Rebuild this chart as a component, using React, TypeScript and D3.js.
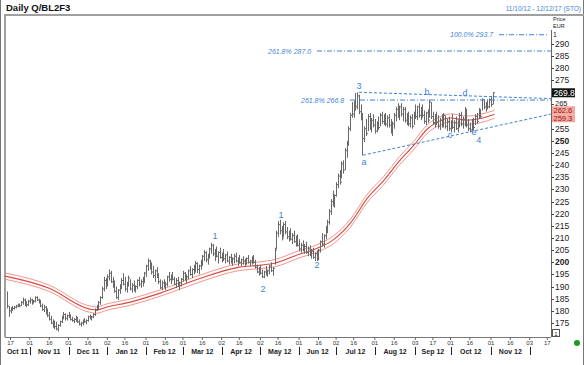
import React from 'react'
import * as d3 from 'd3'

const title = 'Daily Q/BL2F3'
const period = '11/10/12 - 12/12/17 (STO)'

// daily bars [high, low, close], one per trading day, first one is 13 Oct 2011
const oct11 = [[188,181,182],[182,177.5,180],[181.5,179,180.5],[182,180,181],[182,180.5,181.5],[182.5,181,182],[183,181.5,182.5],[183,181.5,182],[184,182,183.5],[185.5,182.5,184.5],[185,182,183],[184,181.5,182.5],[184.5,182,184]]
const nov11 = [[185.5,183,184.5],[185,182.5,183.5],[184.5,183,184],[186,183.5,185.5],[186,184,184.5],[185,183,183.5],[184.5,181.5,182],[183,180,180.5],[182.5,179.5,181.5],[182,178.5,179],[181,177.5,178],[179.5,176,176.5],[178,174.5,175],[176.5,173,174],[176,172.5,173.5],[175.5,172,172.5],[174.5,171.5,174],[176,173.5,175.5],[178,175,177.5],[179.5,176.5,178.5],[179,176,177],[178.5,176,178]]
const dec11 = [[179.5,177,177.5],[178.5,176,176.5],[177.5,175.5,176],[177,175,176.5],[178,175.5,177],[177.5,175,175.5],[176.5,174,174.5],[175.5,173.5,175],[176.5,174,176],[177,175,175.5],[176.5,174.5,176],[178,175.5,177.5],[178.5,176.5,177],[178,176,177.5],[179,177,178.5],[181,178,180.5],[182.5,180,181.5],[184,180.5,183.5],[186,182.5,185.5],[190,185,189],[194,188,192.5],[193.5,189,190.5]]
const jan12 = [[195,190,194],[197,192.5,195.5],[196.5,191.5,192],[194,189.5,190.5],[192.5,187.5,188],[190,185,185.5],[189,184.5,188.5],[191,187,190.5],[193.5,189,192.5],[195.5,190.5,191],[194,188,189],[192,187.5,191.5],[194.5,190,193.5],[193,188.5,189],[191.5,187.5,190.5],[192.5,188,188.5],[190.5,187.5,190],[193,189,192.5],[194,190,191],[193,189.5,192],[194,190,193],[196,191.5,195.5]]
const feb12 = [[199,194,198.5],[201.5,196.5,200.5],[201,197,198],[200,195,196],[198.5,193.5,194.5],[197,192,196.5],[198,193.5,194],[195.5,191,192],[193,189,189.5],[192.5,188.5,191.5],[193,189.5,190.5],[192,188.5,191],[194.5,190,194],[196,192,193],[195,191,194.5],[196,192.5,193],[194,190.5,191],[193.5,189.5,192.5],[194,190,190.5],[192,188.5,191.5],[193.5,190,193]]
const mar12 = [[196.5,192,195.5],[196,192.5,193.5],[195,191.5,194],[197,193,196.5],[198.5,194.5,195],[197.5,193.5,197],[199,195,196],[200.5,196,199.5],[200,195.5,197],[199,195,198.5],[201,197,200],[203,198.5,202.5],[205,200.5,204],[204.5,200,201],[203.5,199,203],[206,201.5,205.5],[208,203.5,207],[207.5,202.5,203.5],[205.5,200.5,204.5],[206.5,202,202.5],[204.5,199.5,204],[206,201.5,202]]
const apr12 = [[204,200,203.5],[205.5,200.5,201.5],[203.5,199.5,203],[204.5,200,200.5],[202.5,199,202],[203.5,199.5,200],[202,198.5,201.5],[203.5,199.5,202.5],[204,200,200.5],[202,198.5,201.5],[203,199.5,200],[201.5,198.5,201],[202.5,199,200.5],[201.5,198.5,200.5],[202,199,201.5],[203,199.5,200],[201,198.5,200.5],[202.5,199,202],[203,199.5,200],[201,197.5,198],[199,195.5,196]]
const may12 = [[198,194.5,197.5],[199,195,195.5],[197,193.5,194],[196.5,193.5,196],[198.5,194.5,195],[197,194,196.5],[199,195,198.5],[200,196,196.5],[198,194.5,197.5],[206,199,205],[213,205.5,212],[217,210.5,215.5],[217.5,211.5,213],[215,209,210],[216.5,210.5,215.5],[217,211.5,212.5],[214.5,209.5,210.5],[213,208.5,212],[214,209,209.5],[212,207.5,211],[213,208,208.5],[211,206.5,210],[211.5,206.5,207]]
const jun12 = [[209.5,204.5,205.5],[208,204,207],[209,204.5,205],[207.5,203.5,206.5],[208.5,203.5,204],[206.5,202.5,205.5],[207,202.5,203],[205.5,201.5,204.5],[206,201.5,202],[204,200.5,203.5],[205,200.5,201],[205.5,201,205],[209,204,208.5],[212,206.5,207.5],[211.5,206,211],[215,209.5,214],[217.5,212,216.5],[222,215.5,221],[226,219.5,225],[229.5,223,224.5],[228,222.5,227.5]]
const jul12 = [[233,227,232],[236.5,230.5,235.5],[238,232,233],[241.5,234.5,240.5],[242,236.5,238],[247,238,246],[250,243,248.5],[256,248,255],[261.5,254,260.5],[266,259.5,261],[266.5,259.5,265.5],[269.7,262.5,264],[270,263,268.5],[269,261,262],[265,258.5,260],[261.5,244,251],[256,249.5,255],[259,252,253],[261,254,260],[261.5,254.5,256],[259.5,253.5,258.5],[261,255.5,256.5]]
const aug12 = [[259,253,254],[258,253.5,257.5],[260,254.5,255.5],[261.5,256,260.5],[262,257,258],[261,256.5,260.5],[261.5,256,257],[260.5,255.5,259.5],[261,255.5,256.5],[259,253,254],[258,252,257],[261.5,255,260.5],[264,258,263],[265.5,259.5,261],[264.5,258.5,264],[265.5,260,261],[264,258,263],[264,257.5,258.5],[261.5,256.5,260.5],[262,256,257],[260.5,255.5,259.5],[261,255,256],[262,256.5,261.5]]
const sep12 = [[265,259,260],[264.5,258.5,264],[265.5,259.5,260.5],[264,258.5,263],[265,259.5,260.5],[262.5,257,258],[262,256.5,261.5],[263,257.5,258.5],[267,259.5,266],[266,259,260],[262,256.5,257.5],[261,255.5,260],[262,256.5,257.5],[260.5,255,256],[259.5,254.5,258.5],[261,255.5,256.5],[261.5,255.5,260.5],[260.5,255,256],[259,254,258],[260,254,255]]
const oct12 = [[258.5,253.5,257.5],[261,255,255.5],[258.5,253.5,257.5],[260,254.5,255],[258.5,253.5,258],[261.5,255.5,260.5],[262,256,257],[260,255,259],[264,256,263],[263,255.5,256.5],[259,254,255],[257.5,253.5,254.5],[259,254,258],[259.5,254.5,255.5],[261,256.5,260],[261.5,257,258],[263.5,259,263],[263,259.5,260],[267.5,262.5,267],[267,263,264],[266,262,265.5],[267,263,264],[267.5,263.5,267]]
const nov12 = [[268.5,264,265],[270,265,269.8]]
const bars = [...oct11, ...nov11, ...dec11, ...jan12, ...feb12, ...mar12, ...apr12, ...may12, ...jun12, ...jul12, ...aug12, ...sep12, ...oct12, ...nov12]
const firstBar = -2 // trading days relative to 17 Oct 2011

// moving-average ribbon, read at these trading days
const maDays = [-3, 22, 45, 49, 54, 68, 85, 108, 130, 142, 150, 164, 174, 183, 193, 203, 212, 221, 229, 237, 242, 250, 259, 267, 275]
const maUpper = [195.6, 190.6, 182, 181.6, 182.7, 184.9, 188.6, 194.8, 199.4, 200.2, 201.1, 204.8, 207.2, 210.6, 217.6, 228.3, 235.3, 243.5, 249.7, 256.7, 259.2, 261.1, 260.2, 260.9, 262.6]
const maMid = [194.3, 189.3, 180.7, 180.3, 181.4, 183.6, 187.3, 193.4, 198, 198.8, 199.6, 203.3, 205.7, 209, 216, 226.6, 233.6, 241.8, 248, 255, 257.5, 259.4, 258.5, 259.2, 261]
const maLower = [193, 188, 179.4, 179, 180.1, 182.3, 186, 192, 196.6, 197.4, 198.1, 201.8, 204.2, 207.4, 214.4, 224.9, 231.9, 240.1, 246.3, 253.3, 255.8, 257.7, 256.8, 257.5, 259.3]

// 270 and 260 sit under the price tags in the original, so they are not listed
const yTicks = [175, 180, 185, 190, 195, 200, 205, 210, 215, 220, 225, 230, 235, 240, 245, 250, 255, 265, 275, 280, 285, 290]
const dayTicks = ['2011-10-17', '2011-11-01', '2011-11-16', '2011-12-01', '2011-12-16', '2012-01-02', '2012-01-16', '2012-02-01', '2012-02-16', '2012-03-01', '2012-03-16', '2012-04-02', '2012-04-16', '2012-05-02', '2012-05-16', '2012-06-01', '2012-06-16', '2012-07-02', '2012-07-16', '2012-08-01', '2012-08-16', '2012-09-03', '2012-09-17', '2012-10-01', '2012-10-16', '2012-11-01', '2012-11-16', '2012-12-03', '2012-12-17']
const dayLabels = ['17', '01', '16', '01', '16', '02', '16', '01', '16', '01', '16', '02', '16', '02', '16', '01', '16', '02', '16', '01', '16', '03', '17', '01', '16', '01', '16', '03', '17']
const monthStarts = ['2011-11-01', '2011-12-01', '2012-01-02', '2012-02-01', '2012-03-01', '2012-04-02', '2012-05-02', '2012-06-01', '2012-07-02', '2012-08-01', '2012-09-03', '2012-10-01', '2012-11-01', '2012-12-03']
const monthNames = ['Oct 11', 'Nov 11', 'Dec 11', 'Jan 12', 'Feb 12', 'Mar 12', 'Apr 12', 'May 12', 'Jun 12', 'Jul 12', 'Aug 12', 'Sep 12', 'Oct 12', 'Nov 12']

// annotations: [trading day, price, text]
const waves: [number, number, string][] = [[116.2, 209.5, '1'], [143.5, 187.6, '2'], [153.7, 218.3, '1'], [174.1, 197.5, '2'], [198, 271.4, '3'], [200.8, 240, 'a'], [236.6, 268.8, 'b'], [249.7, 251, 'c'], [258.2, 268.4, 'd'], [263.3, 252.3, 'e'], [266, 249, '4']]
const trendUpper = [[198, 270], [307, 267.4]]
const trendLower = [[200.3, 244.1], [307, 261]]
const fibs = [{ label: '100.0% 293.7', value: 293.7, x0: 450, x1: 548 }, { label: '261.8% 287.0', value: 287.0, x0: 268, x1: 551 }, { label: '261.8% 266.8', value: 266.8, x0: 301, x1: 551 }]
const lastClose = 269.8
const ribbonTags = [262.6, 259.3]

const origin = Date.UTC(2011, 9, 17)
function dayIndex(s: string) {
  const end = Date.parse(s + 'T00:00:00Z')
  let n = 0
  for (let t = origin; t < end; t += 86400000) {
    const wd = new Date(t).getUTCDay()
    if (wd !== 0 && wd !== 6) n++
  }
  return n
}

const font = 'Liberation Sans, Arial, sans-serif'
const blue = '#3f82d6'

export default function App() {
  const W = 584, H = 365
  const left = 5, right = 551, top = 15, bottom = 337

  const x = d3.scaleLinear().domain([0, 305]).range([10.5, 547.3])
  const y = d3.scaleLinear().domain([175, 280]).range([323, 68])

  const line = d3.line<number[]>().x(d => x(d[0])).y(d => y(d[1])).curve(d3.curveMonotoneX)
  const ribbon = (vals: number[]) => line(maDays.map((dd, i) => [dd, vals[i]])) || ''

  const seps = monthStarts.map(m => x(dayIndex(m)))
  const sepEdges = [left, ...seps]

  return (
    <div style={{ position: 'absolute', left: 0, top: 0 }}>
      <svg width={W} height={H} style={{ display: 'block', background: '#fff' }} fontFamily={font}>
        <defs>
          <clipPath id="plot"><rect x={left} y={top} width={right - left} height={bottom - top} /></clipPath>
        </defs>
        {/* outer frame */}
        <line x1={0.5} x2={0.5} y1={0} y2={H} stroke="#777" />
        <line x1={W - 0.5} x2={W - 0.5} y1={0} y2={H} stroke="#777" />
        <path d={`M${left},${bottom}V${top}H${W}`} fill="none" stroke="#a0a0a0" strokeWidth={2} />
        <text x={6} y={11} fontSize={9.5} fontWeight="bold" fill="#111">{title}</text>
        <text x={581} y={11} fontSize={6.5} fill={blue} textAnchor="end">{period}</text>

        {/* right axis */}
        <line x1={right + 0.5} x2={right + 0.5} y1={30} y2={bottom} stroke="#666" />
        <text x={553} y={21} fontSize={5.5} fill="#222">Price</text>
        <text x={553} y={27.5} fontSize={5.5} fill="#222">EUR</text>
        <text x={553} y={37} fontSize={7} fill="#222">1</text>
        {yTicks.map(t => (
          <g key={t}>
            <line x1={right} x2={right + 3} y1={Math.round(y(t)) + 0.5} y2={Math.round(y(t)) + 0.5} stroke="#444" />
            <text x={right + 4} y={y(t) + (t === 265 ? 2 : 3)} fontSize={t === 265 ? 7.5 : 8.5} fill="#222" fontWeight={t % 50 === 0 ? 'bold' : 'normal'}>{t}</text>
          </g>
        ))}

        {/* bottom axis */}
        <line x1={left} x2={right} y1={bottom + 0.5} y2={bottom + 0.5} stroke="#777" />
        {dayTicks.map((d, i) => {
          const px = x(dayIndex(d))
          return (
            <g key={d}>
              <line x1={px} x2={px} y1={bottom} y2={bottom + 3} stroke="#666" />
              <text x={px} y={345} fontSize={6} fill="#333" textAnchor="middle">{dayLabels[i]}</text>
            </g>
          )
        })}
        {seps.map((s, i) => <line key={i} x1={Math.round(s) + 0.5} x2={Math.round(s) + 0.5} y1={347} y2={355} stroke="#222" />)}
        {monthNames.map((m, i) => (
          <text key={m} x={(sepEdges[i] + sepEdges[i + 1]) / 2} y={353.5} fontSize={7} fontWeight="bold" fill="#222" textAnchor="middle">{m}</text>
        ))}
        <rect x={552.5} y={329.5} width={7} height={7} fill="#fff" stroke="#555" />
        <text x={556} y={335.5} fontSize={6} textAnchor="middle" fill="#222">1</text>
        <circle cx={577} cy={343} r={3} fill="#1e9a1e" />

        <g clipPath="url(#plot)">
          {/* moving average ribbon */}
          <path d={ribbon(maUpper)} fill="none" stroke="#f0958c" strokeWidth={1} />
          <path d={ribbon(maLower)} fill="none" stroke="#f0958c" strokeWidth={1} />
          <path d={ribbon(maMid)} fill="none" stroke="#d8473e" strokeWidth={1.1} />

          {/* price bars */}
          {bars.map((b, i) => {
            const px = Math.round(x(firstBar + i)) + 0.5
            return (
              <g key={i} stroke="#686868" strokeWidth={1}>
                <line x1={px} x2={px} y1={y(b[0])} y2={y(b[1])} />
                <line x1={px} x2={px + 1.5} y1={y(b[2])} y2={y(b[2])} />
              </g>
            )
          })}

          {/* trendlines */}
          <path d={line(trendUpper) || ''} fill="none" stroke={blue} strokeDasharray="3,2" />
          <path d={line(trendLower) || ''} fill="none" stroke={blue} strokeDasharray="3,2" />
        </g>

        {/* fibonacci levels */}
        {fibs.map(f => (
          <g key={f.label}>
            <text x={f.x0} y={y(f.value) + 2.5} fontSize={7} fontStyle="italic" fill={blue}>{f.label}</text>
            <line x1={f.x0 + 49} x2={f.x1} y1={y(f.value)} y2={y(f.value)} stroke={blue} strokeDasharray="5,2,1,2" />
          </g>
        ))}

        {waves.map(([d, v, t], i) => (
          <text key={i} x={x(d)} y={y(v)} fontSize={9} fill={blue} textAnchor="middle">{t}</text>
        ))}

        {/* price tags */}
        <rect x={552} y={y(lastClose) - 4.5} width={23} height={9} fill="#111" />
        <text x={553.5} y={y(lastClose) + 3} fontSize={8.5} fill="#fff">{lastClose.toFixed(1)}</text>
        {ribbonTags.map(v => (
          <g key={v}>
            <rect x={552} y={y(v) - 4} width={23} height={8} fill="#f4a79f" />
            <text x={553.5} y={y(v) + 2.5} fontSize={7.5} fill="#9b1c14">{v.toFixed(1)}</text>
          </g>
        ))}
      </svg>
    </div>
  )
}
